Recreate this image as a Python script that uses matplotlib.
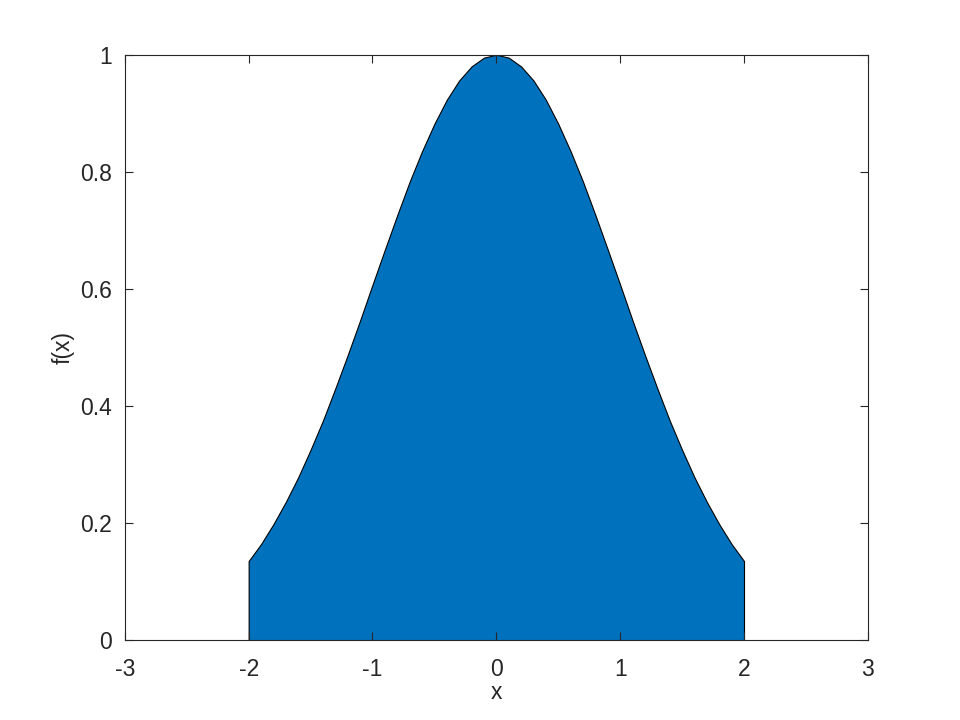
import matplotlib.pyplot as plt

plt.rcParams['font.family'] = ['Liberation Sans', 'DejaVu Sans']
plt.rcParams['axes.unicode_minus'] = False

# curve, x from -2 to 2 in steps of 0.1
x_vals = [-2.0, -1.9, -1.8, -1.7, -1.6, -1.5, -1.4, -1.3, -1.2, -1.1,
          -1.0, -0.9, -0.8, -0.7, -0.6, -0.5, -0.4, -0.3, -0.2, -0.1,
          0.0, 0.1, 0.2, 0.3, 0.4, 0.5, 0.6, 0.7, 0.8, 0.9,
          1.0, 1.1, 1.2, 1.3, 1.4, 1.5, 1.6, 1.7, 1.8, 1.9, 2.0]
f_vals = [0.135, 0.164, 0.198, 0.236, 0.278, 0.325, 0.375, 0.430, 0.487, 0.546,
          0.607, 0.667, 0.726, 0.783, 0.835, 0.882, 0.923, 0.956, 0.980, 0.995,
          1.000, 0.995, 0.980, 0.956, 0.923, 0.882, 0.835, 0.783, 0.726, 0.667,
          0.607, 0.546, 0.487, 0.430, 0.375, 0.325, 0.278, 0.236, 0.198, 0.164, 0.135]

xticks = [-3, -2, -1, 0, 1, 2, 3]
yticks = [0, 0.2, 0.4, 0.6, 0.8, 1]
ytick_labels = ['0', '0.2', '0.4', '0.6', '0.8', '1']

fig = plt.figure(figsize=(9.6, 7.2), dpi=100)
ax = fig.add_axes([0.130, 0.111, 0.774, 0.813])

ax.fill_between(x_vals, 0, f_vals, facecolor='#0072BD', edgecolor='black',
                linewidth=0.8)

ax.set_xlim(-3, 3)
ax.set_ylim(0, 1)
ax.set_xticks(xticks)
ax.set_yticks(yticks)
ax.set_yticklabels(ytick_labels)
ax.tick_params(direction='in', top=True, right=True, labelsize=16.5,
               colors='#262626', length=6, width=0.8)
ax.tick_params(axis='x', pad=13)
ax.tick_params(axis='y', pad=9)
for sp in ax.spines.values():
    sp.set_linewidth(0.8)
    sp.set_color('#262626')

ax.set_xlabel('x', fontsize=16.5, color='#262626', labelpad=0)
ax.set_ylabel('f(x)', fontsize=16.5, color='#262626', labelpad=4)

fig.savefig('out.png', dpi=100)
